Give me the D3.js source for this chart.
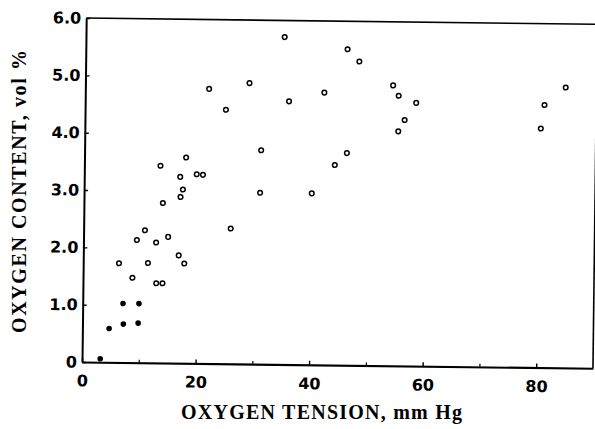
<!DOCTYPE html>
<html>
<head>
<meta charset="utf-8">
<script src="https://cdn.jsdelivr.net/npm/d3@7"></script>
<style>
  html, body { margin: 0; padding: 0; background: #fff; }
  svg { display: block; }
</style>
</head>
<body>
<svg id="chart" width="595" height="429"></svg>
<script>
// ---- data ----
const openX = [6.3, 8.7, 9.4, 10.8, 11.4, 12.8, 12.9, 14.0, 14.9, 16.8, 17.8, 13.9, 17.0, 17.4, 16.9, 17.9, 13.4, 19.8, 20.9,
               21.8, 24.8, 25.9, 28.9, 31.0, 31.1, 35.0, 35.9, 40.1, 42.1, 44.1, 46.2, 46.1, 48.2,
               54.2, 55.2, 58.3, 56.3, 55.2, 80.3, 80.9, 84.6];
const openY = [1.73, 1.48, 2.14, 2.31, 1.74, 2.10, 1.39, 1.39, 2.20, 1.88, 1.74, 2.79, 2.90, 3.03, 3.25, 3.59, 3.44, 3.30, 3.29,
               4.79, 4.43, 2.36, 4.90, 2.99, 3.73, 5.71, 4.59, 2.99, 4.75, 3.49, 3.70, 5.51, 5.30,
               4.89, 4.71, 4.59, 4.29, 4.09, 4.17, 4.58, 4.89];
const filledX = [3.2, 4.7, 7.2, 9.8, 7.1, 9.9];
const filledY = [0.06, 0.59, 0.67, 0.69, 1.03, 1.03];

const xTickValues = [0, 20, 40, 60, 80];
const xMinorTicks = [10, 30, 50, 70];
const yTickValues = [0, 1, 2, 3, 4, 5, 6];
const yTickLabels = ["0", "1.0", "2.0", "3.0", "4.0", "5.0", "6.0"];
const xTitle = "OXYGEN TENSION, mm Hg";
const yTitle = "OXYGEN CONTENT, vol %";

// ---- layout ----
const svg = d3.select("#chart");
const W = 511, H = 344;
const x = d3.scaleLinear().domain([0, 90]).range([0, W]);
const y = d3.scaleLinear().domain([0, 6]).range([0, -H]);

const g = svg.append("g").attr("transform", "translate(82,362) rotate(0.7)");

const tickFont = "'DejaVu Sans', sans-serif";

// frame (top + right)
g.append("line").attr("x1", x(0)).attr("x2", x(90)).attr("y1", y(6)).attr("y2", y(6))
  .attr("stroke", "#000").attr("stroke-width", 1.6);
g.append("line").attr("x1", x(90)).attr("x2", x(90)).attr("y1", y(6)).attr("y2", y(0))
  .attr("stroke", "#000").attr("stroke-width", 1.6);

// x axis
const xAxis = g.append("g")
  .call(d3.axisBottom(x).tickValues(xTickValues).tickSizeInner(-4).tickSizeOuter(0).tickPadding(13)
        .tickFormat(d3.format("d")));
xAxis.select(".domain").attr("stroke-width", 2.2);
xAxis.selectAll(".tick line").attr("stroke-width", 1.4);
xAxis.selectAll("text").attr("font-family", tickFont).attr("font-weight", "bold")
  .attr("font-size", 16).attr("fill", "#000");

const xMinor = g.append("g")
  .call(d3.axisBottom(x).tickValues(xMinorTicks).tickSizeInner(-3).tickSizeOuter(0).tickFormat(""));
xMinor.select(".domain").remove();
xMinor.selectAll(".tick line").attr("stroke-width", 1.2);

// y axis
const yAxis = g.append("g")
  .call(d3.axisLeft(y).tickValues(yTickValues).tickSizeInner(-4).tickSizeOuter(0).tickPadding(5)
        .tickFormat((d, i) => yTickLabels[i]));
yAxis.select(".domain").attr("stroke-width", 2);
yAxis.selectAll(".tick line").attr("stroke-width", 1.4);
yAxis.selectAll("text").attr("font-family", tickFont).attr("font-weight", "bold")
  .attr("font-size", 16).attr("fill", "#000");

// points
g.append("g").selectAll("circle").data(openX.map((v, i) => [v, openY[i]])).join("circle")
  .attr("cx", d => x(d[0])).attr("cy", d => y(d[1])).attr("r", 2.3)
  .attr("fill", "#fff").attr("stroke", "#000").attr("stroke-width", 1.5);
g.append("g").selectAll("circle").data(filledX.map((v, i) => [v, filledY[i]])).join("circle")
  .attr("cx", d => x(d[0])).attr("cy", d => y(d[1])).attr("r", 2.8)
  .attr("fill", "#000");

// titles
const titleFont = "'Liberation Serif', 'Times New Roman', serif";
svg.append("text").attr("x", 181).attr("y", 419)
  .attr("font-family", titleFont).attr("font-weight", "bold").attr("font-size", 20)
  .attr("textLength", 281).attr("lengthAdjust", "spacing")
  .text(xTitle);
svg.append("text").attr("transform", "translate(26,333) rotate(-90)")
  .attr("font-family", titleFont).attr("font-weight", "bold").attr("font-size", 20)
  .attr("textLength", 283).attr("lengthAdjust", "spacing")
  .text(yTitle);
</script>
</body>
</html>
